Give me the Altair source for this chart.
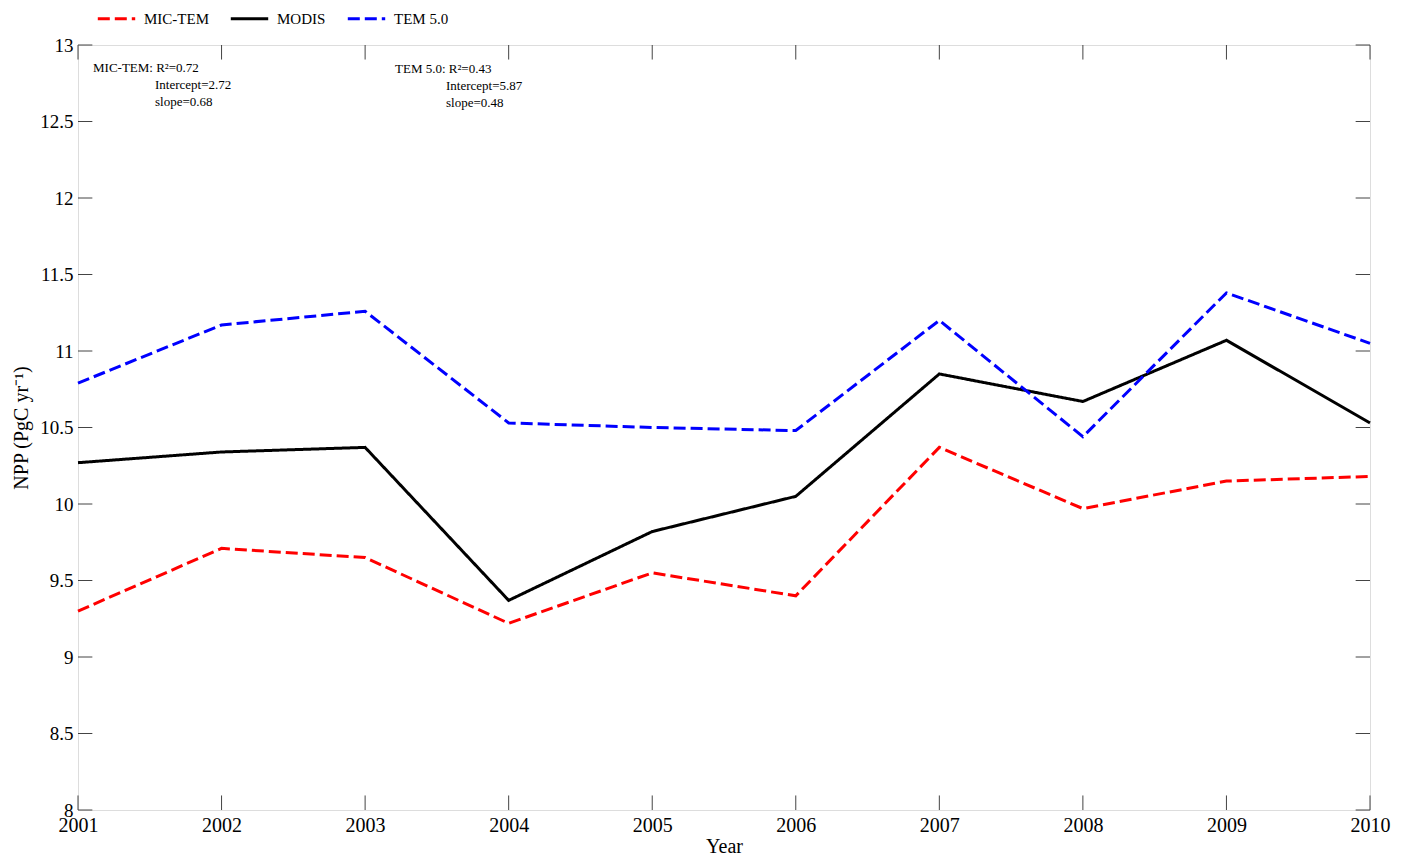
import altair as alt
import pandas as pd

years = [2001, 2002, 2003, 2004, 2005, 2006, 2007, 2008, 2009, 2010]
mic_tem = [9.30, 9.71, 9.65, 9.22, 9.55, 9.40, 10.37, 9.97, 10.15, 10.18]
modis = [10.27, 10.34, 10.37, 9.37, 9.82, 10.05, 10.85, 10.67, 11.07, 10.53]
tem5 = [10.79, 11.17, 11.26, 10.53, 10.50, 10.48, 11.20, 10.44, 11.38, 11.05]
series_names = ["MIC-TEM", "MODIS", "TEM 5.0"]
series_colors = ["#ff0000", "#000000", "#0000ff"]
series_dash = [[12, 5], [1, 0], [12, 5]]
y_ticks = [8, 8.5, 9, 9.5, 10, 10.5, 11, 11.5, 12, 12.5, 13]

rows = []
for name, vals in zip(series_names, [mic_tem, modis, tem5]):
    for yr, v in zip(years, vals):
        rows.append({"Year": yr, "NPP": v, "series": name})
df = pd.DataFrame(rows)

FONT = "Liberation Serif"
W, H = 1292, 765
xs = alt.Scale(domain=[2001, 2010], nice=False, zero=False)
ys = alt.Scale(domain=[8, 13], nice=False, zero=False)

lines = alt.Chart(df).mark_line(strokeWidth=3).encode(
    x=alt.X("Year:Q", scale=xs,
            axis=alt.Axis(values=years, format="d", tickSize=0, grid=False, domain=False,
                          labelFont=FONT, labelFontSize=20, labelColor="black", labelPadding=5,
                          titleFont=FONT, titleFontSize=20, titleFontWeight="normal",
                          titleColor="black", titlePadding=1, labelFlush=False),
            title="Year"),
    y=alt.Y("NPP:Q", scale=ys,
            axis=alt.Axis(values=y_ticks, format="~g", tickSize=0, grid=False, domain=False,
                          labelFont=FONT, labelFontSize=19, labelColor="black", labelPadding=5,
                          titleFont=FONT, titleFontSize=20, titleFontWeight="normal",
                          titleColor="black", titlePadding=8),
            title="NPP (PgC yr⁻¹)"),
    color=alt.Color("series:N", scale=alt.Scale(domain=series_names, range=series_colors),
                    legend=alt.Legend(orient="none", legendX=18, legendY=-47, direction="horizontal",
                                      title=None, symbolType="stroke", symbolSize=1400,
                                      symbolStrokeWidth=3, labelFont=FONT, labelFontSize=15,
                                      labelColor="black", columnPadding=15, labelOffset=7)),
    strokeDash=alt.StrokeDash("series:N", scale=alt.Scale(domain=series_names, range=series_dash),
                              legend=None),
)

# inward tick marks
xt = pd.DataFrame({"Year": years})
yt = pd.DataFrame({"v": y_ticks})
tick_len_x = 0.1
tick_len_y = 0.095
bot = alt.Chart(xt).transform_calculate(y0="8", y1=str(8 + tick_len_y)).mark_rule(color="#444444", strokeWidth=1).encode(
    x=alt.X("Year:Q", scale=xs), y=alt.Y("y0:Q", scale=ys), y2="y1:Q")
top = alt.Chart(xt).transform_calculate(y0="13", y1=str(13 - tick_len_y)).mark_rule(color="#444444", strokeWidth=1).encode(
    x=alt.X("Year:Q", scale=xs), y=alt.Y("y0:Q", scale=ys), y2="y1:Q")
left = alt.Chart(yt).transform_calculate(x0="2001", x1=str(2001 + tick_len_x)).mark_rule(color="#444444", strokeWidth=1).encode(
    y=alt.Y("v:Q", scale=ys), x=alt.X("x0:Q", scale=xs), x2="x1:Q")
right = alt.Chart(yt).transform_calculate(x0="2010", x1=str(2010 - tick_len_x)).mark_rule(color="#444444", strokeWidth=1).encode(
    y=alt.Y("v:Q", scale=ys), x=alt.X("x0:Q", scale=xs), x2="x1:Q")

ann_rows = [
    ("MIC-TEM: R²=0.72", 15, 23),
    ("Intercept=2.72", 77, 40),
    ("slope=0.68", 77, 57),
    ("TEM 5.0: R²=0.43", 317, 24),
    ("Intercept=5.87", 368, 41),
    ("slope=0.48", 368, 58),
]
ann_layers = []
for txt, px, py in ann_rows:
    ann_layers.append(
        alt.Chart(pd.DataFrame({"t": [txt]})).mark_text(
            font=FONT, fontSize=13, align="left", baseline="middle", color="black"
        ).encode(text="t:N", x=alt.value(px), y=alt.value(py))
    )

chart = alt.layer(lines, bot, top, left, right, *ann_layers).properties(
    width=W, height=H,
    autosize=alt.AutoSizeParams(type="none"),
    padding={"left": 70, "top": 37, "right": 30, "bottom": 45},
).configure_view(stroke="#222222", strokeWidth=1.2, strokeOpacity=1).configure(background="white")

chart.save("out.html", embed_options={"renderer": "svg", "actions": False})
